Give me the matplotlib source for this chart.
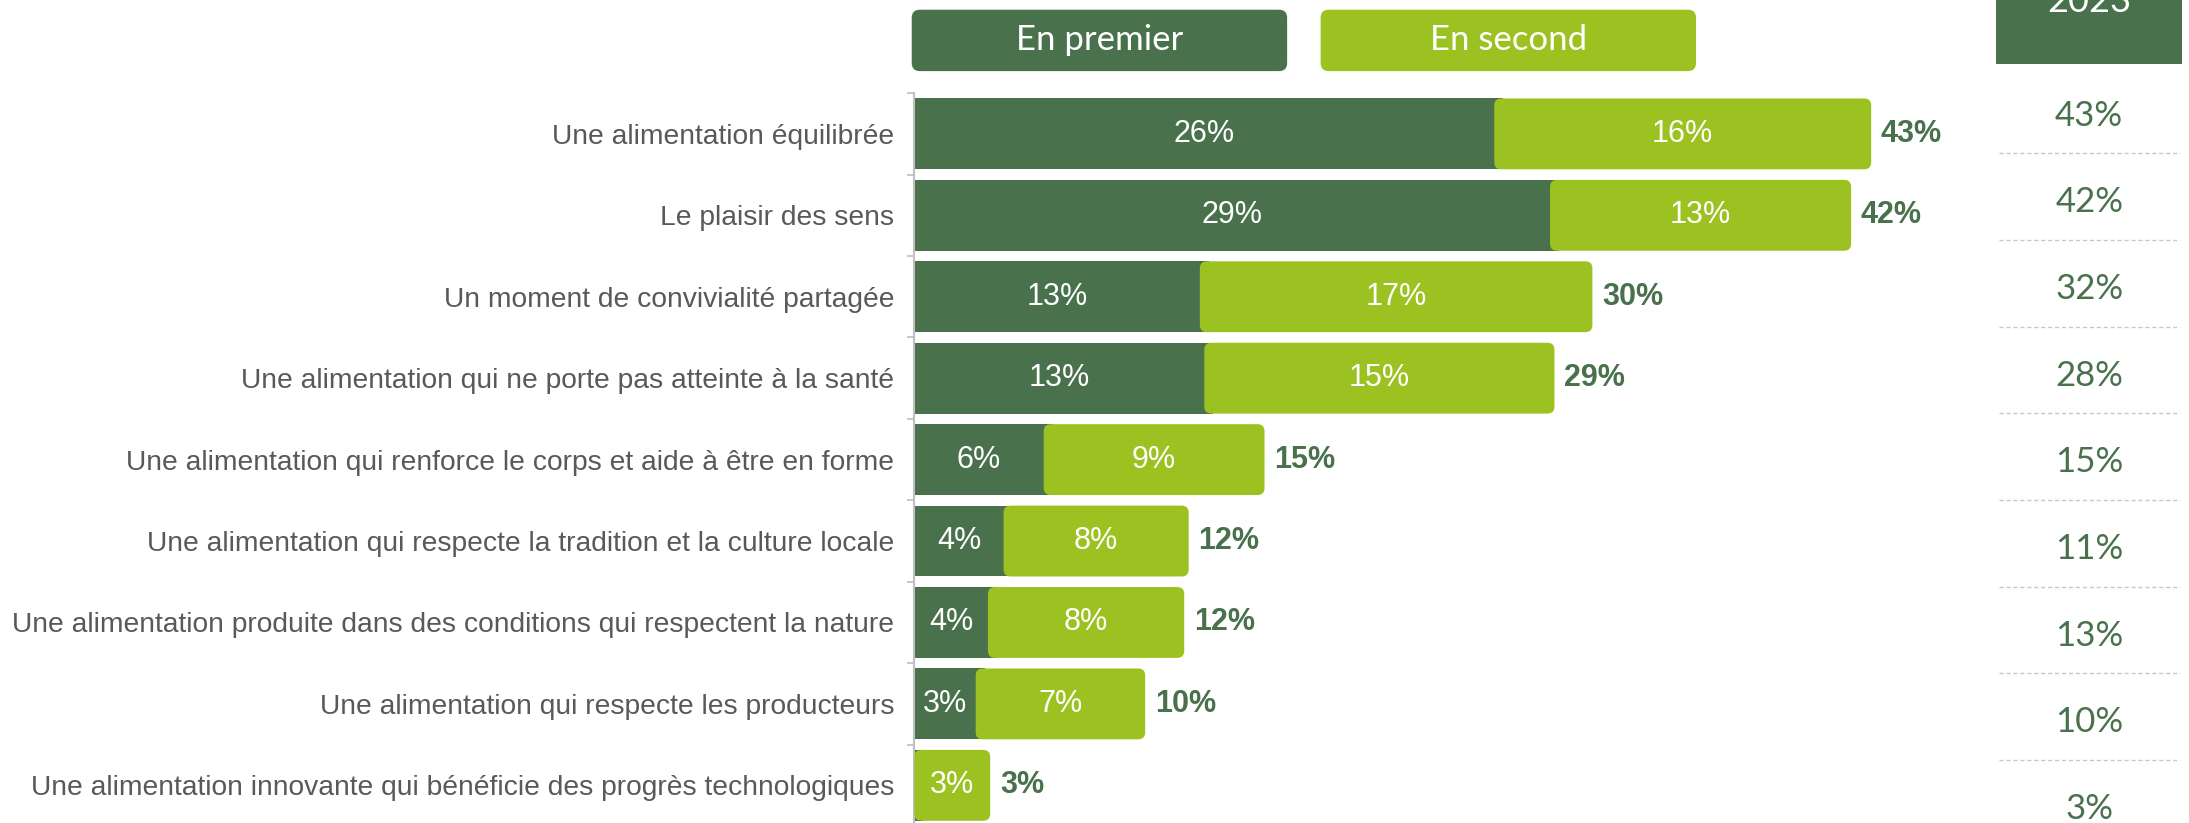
import matplotlib
matplotlib.use("Agg")
import matplotlib.pyplot as plt
from matplotlib.patches import FancyBboxPatch, Rectangle

# data
categories = [
    "Une alimentation équilibrée",
    "Le plaisir des sens",
    "Un moment de convivialité partagée",
    "Une alimentation qui ne porte pas atteinte à la santé",
    "Une alimentation qui renforce le corps et aide à être en forme",
    "Une alimentation qui respecte la tradition et la culture locale",
    "Une alimentation produite dans des conditions qui respectent la nature",
    "Une alimentation qui respecte les producteurs",
    "Une alimentation innovante qui bénéficie des progrès technologiques",
]
first = [26.4, 28.9, 13.2, 13.4, 6.2, 4.4, 3.7, 3.15, 0.4]
second = [16.5, 13.1, 17.2, 15.3, 9.5, 7.9, 8.4, 7.2, 3.0]
first_lbl = [26, 29, 13, 13, 6, 4, 4, 3, None]
second_lbl = [16, 13, 17, 15, 9, 8, 8, 7, 3]
total_lbl = [43, 42, 30, 29, 15, 12, 12, 10, 3]
prev_year = [43, 42, 32, 28, 15, 11, 13, 10, 3]
series_names = ["En premier", "En second"]
year = "2023"

DARK = "#48714c"
LIGHT = "#9bc220"
GRAY_TXT = "#595959"
OVERLAP = 0.4  # light bar slides a bit under the dark one

W, H = 2189, 823
fig = plt.figure(figsize=(W / 100, H / 100), dpi=100)

# main bar axes
ax = fig.add_axes([0.4177, -0.0037, 0.4687, 0.8905])
ax.set_xlim(0, 46)
ax.set_ylim(len(categories) - 0.5, -0.5)
rows = list(range(len(categories)))

ax.barh(rows, first, height=0.87, color=DARK, zorder=2)
lefts = [max(f - OVERLAP, 0) for f in first]
widths = [f + s - l for f, s, l in zip(first, second, lefts)]
light_bars = ax.barh(rows, widths, left=lefts, height=0.87, color=LIGHT, zorder=3)

# swap the light bars for rounded ones
p0 = ax.transData.transform((0, 0))
p1 = ax.transData.transform((1, 1))
sx, sy = abs(p1[0] - p0[0]), abs(p1[1] - p0[1])
rad = 7 / sx
for b in light_bars:
    fb = FancyBboxPatch((b.get_x(), b.get_y()), b.get_width(), b.get_height(),
                        boxstyle=f"round,pad=0,rounding_size={rad}",
                        mutation_aspect=sx / sy, fc=LIGHT, ec="none", zorder=3)
    ax.add_patch(fb)
    b.set_visible(False)

for i in rows:
    f, s, l = first[i], second[i], lefts[i]
    if first_lbl[i] is not None:
        ax.text(l / 2, i, f"{first_lbl[i]}%", ha="center", va="center",
                color="white", fontsize=22, family="Liberation Sans", zorder=4)
    ax.text((l + f + s) / 2, i, f"{second_lbl[i]}%", ha="center", va="center",
            color="white", fontsize=22, family="Liberation Sans", zorder=4)
    ax.annotate(f"{total_lbl[i]}%", (f + s, i), xytext=(7, 0),
                textcoords="offset points", ha="left", va="center",
                color=DARK, fontsize=22, fontweight="bold", family="Liberation Sans")

ax.set_yticks(rows)
ax.set_yticklabels(categories, fontsize=20.3, color=GRAY_TXT, family="Liberation Sans")
ax.set_yticks([r - 0.5 for r in rows] + [rows[-1] + 0.5], minor=True)
ax.tick_params(axis="y", which="major", length=0, pad=14.5)
ax.tick_params(axis="y", which="minor", length=5, width=1.2, color="#bfbfbf", direction="out")
ax.set_xticks([])
for side in ["top", "right", "bottom"]:
    ax.spines[side].set_visible(False)
ax.spines["left"].set_color("#bfbfbf")
ax.spines["left"].set_linewidth(1.5)
ax.patch.set_alpha(0)

# legend boxes on top
for x0, name, col in [(0.4165, series_names[0], DARK), (0.6033, series_names[1], LIGHT)]:
    box = FancyBboxPatch((x0, 0.9136), 0.1715, 0.0746, transform=fig.transFigure,
                         boxstyle="round,pad=0,rounding_size=0.0037",
                         mutation_aspect=W / H, fc=col, ec="none")
    fig.add_artist(box)
    fig.text(x0 + 0.1715 / 2, 0.9136 + 0.0746 / 2, name, ha="center", va="center",
             color="white", fontsize=25, family="Lato")

# comparison column on the right
tax = fig.add_axes([0.912, 0, 0.0848, 1])
tax.set_xlim(0, 1)
tax.set_ylim(8.164, -1.337)
tax.axis("off")
tax.add_patch(Rectangle((0, -1.4), 1, 0.804, fc=DARK, ec="none"))
tax.text(0.5, -1.2, year, ha="center", va="baseline", color="white",
         fontsize=26, family="Lato")
for i, v in enumerate(prev_year):
    tax.text(0.5, i, f"{v}%", ha="center", va="center", color=DARK,
             fontsize=25, family="Lato")
tax.hlines([k + 0.435 for k in range(len(prev_year) - 1)], 0.015, 0.99,
           colors="#c8c8c8", linestyles=(0, (3, 2)), lw=1)

fig.savefig("out.png", dpi=100)
